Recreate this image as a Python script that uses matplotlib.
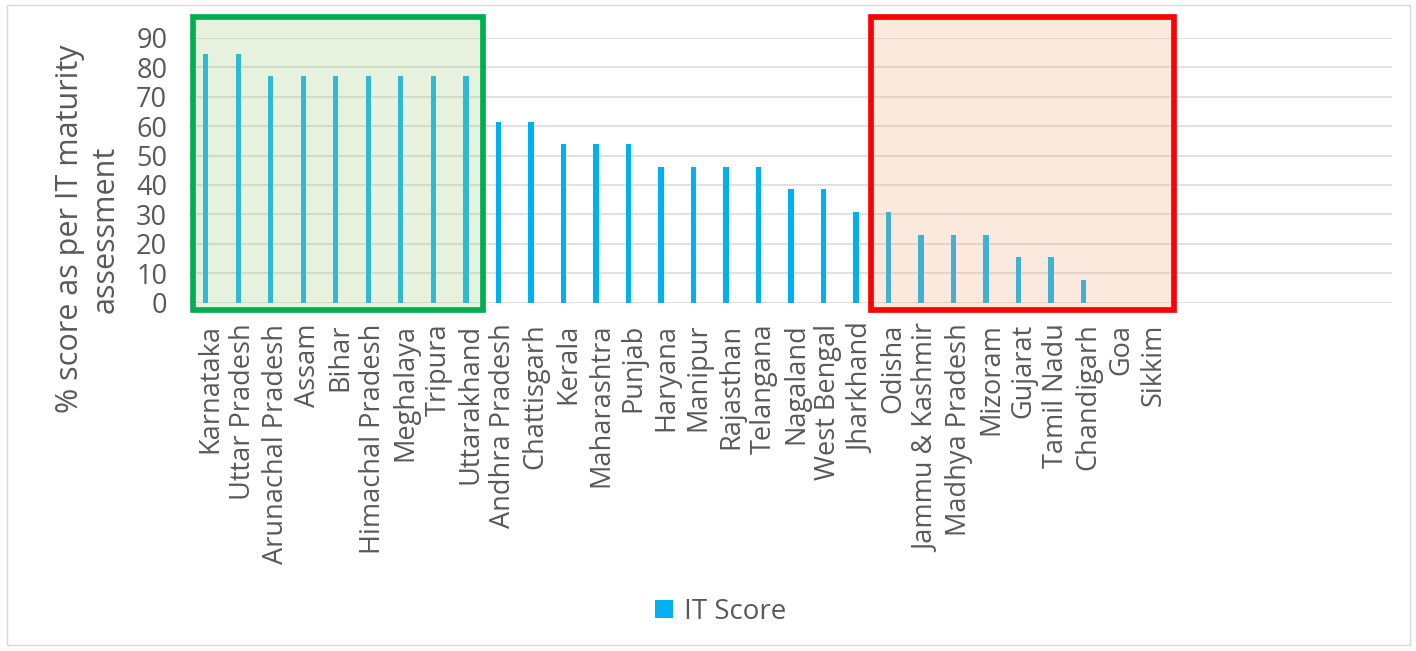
import matplotlib
matplotlib.use('Agg')
import matplotlib.pyplot as plt
from matplotlib.patches import Rectangle, Patch
from matplotlib.colors import to_rgba
from matplotlib.transforms import ScaledTranslation

plt.rcParams['font.family'] = ['Open Sans', 'DejaVu Sans']

# states and their IT maturity score (%)
states = ['Karnataka', 'Uttar Pradesh', 'Arunachal Pradesh', 'Assam', 'Bihar',
          'Himachal Pradesh', 'Meghalaya', 'Tripura', 'Uttarakhand',
          'Andhra Pradesh', 'Chattisgarh', 'Kerala', 'Maharashtra', 'Punjab',
          'Haryana', 'Manipur', 'Rajasthan', 'Telangana', 'Nagaland',
          'West Bengal', 'Jharkhand', 'Odisha', 'Jammu & Kashmir',
          'Madhya Pradesh', 'Mizoram', 'Gujarat', 'Tamil Nadu', 'Chandigarh',
          'Goa', 'Sikkim']
it_score = [84.6, 84.6, 76.9, 76.9, 76.9, 76.9, 76.9, 76.9, 76.9,
            61.5, 61.5, 53.8, 53.8, 53.8, 46.2, 46.2, 46.2, 46.2, 38.5,
            38.5, 30.8, 30.8, 23.1, 23.1, 23.1, 15.4, 15.4, 7.7,
            0, 0]
# empty category slots left on the axis after the last state
n_blank = 7

# highlighted groups (first / last category index)
top_group = ('Karnataka', 'Uttarakhand')
bottom_group = ('Odisha', 'Sikkim')

text_col = '#595959'
grid_col = '#D9D9D9'

fig = plt.figure(figsize=(14.16, 6.51), dpi=100)
ax = fig.add_axes([0.1338, 0.535, 0.8496, 0.407])

labels = states + [''] * n_blank
x = list(range(len(labels)))
ax.bar(x[:len(states)], it_score, width=0.165, color='#00B0F0', zorder=2)

ax.set_xlim(-0.5, len(labels) - 0.5)
ax.set_ylim(0, 90)
ax.set_yticks(range(0, 91, 10))
ax.set_xticks(x)
ax.set_xticklabels(labels, rotation=90)
ax.tick_params(axis='x', length=0, pad=15, labelsize=19.5, labelcolor=text_col)
ax.tick_params(axis='y', length=0, pad=16, labelsize=19.5, labelcolor=text_col)
shift = ScaledTranslation(5 / 100, 0, fig.dpi_scale_trans)
for lab in ax.get_xticklabels():
    lab.set_transform(lab.get_transform() + shift)
ax.yaxis.grid(True, color=grid_col, linewidth=1.1, zorder=0)
ax.set_axisbelow(True)
for s in ax.spines.values():
    s.set_visible(False)

# highlight boxes drawn over the bars
def box(first, last, left_off, right_off, fill, fill_alpha, edge):
    i0 = states.index(first)
    i1 = states.index(last)
    r = Rectangle((i0 - left_off, -2.5), (i1 + right_off) - (i0 - left_off), 99.6,
                  facecolor=to_rgba(fill, fill_alpha), edgecolor=edge,
                  linewidth=4.1, zorder=3, clip_on=False)
    ax.add_patch(r)

box(*top_group, 0.4, 0.53, '#A9D08E', 0.29, '#00B050')
box(*bottom_group, 0.53, 0.77, '#F4B084', 0.27, '#FF0000')

fig.text(0.062, 0.648, '% score as per IT maturity\nassessment', rotation=90,
         ha='center', va='center', multialignment='center',
         fontsize=22, color=text_col, linespacing=1.25)

fig.legend(handles=[Patch(facecolor='#00B0F0', label='IT Score')],
           loc='center', bbox_to_anchor=(0.509, 0.06), frameon=False,
           fontsize=20, labelcolor=text_col, handlelength=0.65,
           handleheight=0.65, handletextpad=0.4)

fig.patches.append(Rectangle((7 / 1416, 1 - 645 / 651), 1403 / 1416, 640 / 651,
                             transform=fig.transFigure, fill=False,
                             edgecolor=grid_col, linewidth=1))

fig.savefig('out.png', dpi=100)
